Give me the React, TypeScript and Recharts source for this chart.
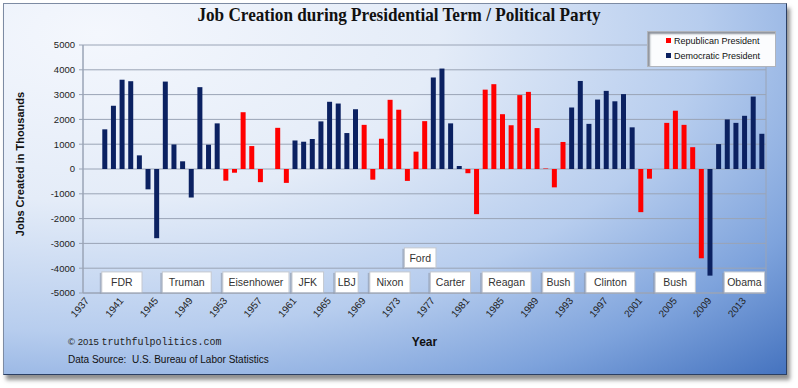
import { BarChart, Bar, XAxis, YAxis, CartesianGrid, Legend, ReferenceArea } from 'recharts'

// categories: one per calendar year (1937 and 1938 have no data)
const years = Array.from({ length: 79 }, (_, i) => 1937 + i)

// jobs created per year, thousands
const jobs: Array<number | null> = [
  null, null,
  1600, 2550, 3600, 3540, 550, -820, -2790, 3525, 990, 310, -1150, 3300, 980, 1840,
  -470, -150, 2290, 925, -530, 0, 1660, -560,
  1150, 1100, 1210, 1920, 2710, 2640, 1450, 2410,
  1780, -430, 1220, 2790, 2390, -480, 700, 1930,
  3690, 4050, 1840, 120,
  -170, -1820, 3200, 3420, 2210, 1760, 2980, 3110, 1650, 20, -740, 1090,
  2480, 3550, 1820, 2800, 3150, 2730, 3020, 1680,
  -1740, -390, 0, 1860, 2350, 1780, 880, -3600,
  -4300, 1005, 2000, 1860, 2145, 2920, 1420,
]

// party in the White House, by year range
const terms = [
  { party: 'D', from: 1939, to: 1952 },
  { party: 'R', from: 1953, to: 1960 },
  { party: 'D', from: 1961, to: 1968 },
  { party: 'R', from: 1969, to: 1976 },
  { party: 'D', from: 1977, to: 1980 },
  { party: 'R', from: 1981, to: 1992 },
  { party: 'D', from: 1993, to: 2000 },
  { party: 'R', from: 2001, to: 2008 },
  { party: 'D', from: 2009, to: 2015 },
]

// president name boxes along the bottom (year span, value span)
const presidents = [
  { name: 'FDR', from: 1939, to: 1943, low: -5000, high: -4150 },
  { name: 'Truman', from: 1946, to: 1951, low: -5000, high: -4150 },
  { name: 'Eisenhower', from: 1953, to: 1960, low: -5000, high: -4150 },
  { name: 'JFK', from: 1961, to: 1964, low: -5000, high: -4150 },
  { name: 'LBJ', from: 1966, to: 1968, low: -5000, high: -4150 },
  { name: 'Nixon', from: 1970, to: 1974, low: -5000, high: -4150 },
  { name: 'Ford', from: 1974, to: 1977, low: -3980, high: -3180 },
  { name: 'Carter', from: 1977, to: 1981, low: -5000, high: -4150 },
  { name: 'Reagan', from: 1983, to: 1988, low: -5000, high: -4150 },
  { name: 'Bush', from: 1990, to: 1993, low: -5000, high: -4150 },
  { name: 'Clinton', from: 1995, to: 2000, low: -5000, high: -4150 },
  { name: 'Bush', from: 2003, to: 2007, low: -5000, high: -4150 },
  { name: 'Obama', from: 2011, to: 2015, low: -5000, high: -4150 },
]

const yTicks = [-5000, -4000, -3000, -2000, -1000, 0, 1000, 2000, 3000, 4000, 5000]
const labelYears = years.filter((y) => (y - 1937) % 4 === 0)
const legendOrder = ['rep', 'dem']

const RED = '#ff0000'
const NAVY = '#0b2161'
const sans = '"Liberation Sans", Arial, sans-serif'

const partyOf = (year: number) => terms.find((t) => year >= t.from && year <= t.to)?.party

const data = years.map((year, i) => {
  const p = partyOf(year)
  return {
    year,
    rep: p === 'R' ? jobs[i] : null,
    dem: p === 'D' ? jobs[i] : null,
  }
})

const YearTick = ({ x, y, payload }: any) => (
  <text x={x} y={y} dy={3} textAnchor="end" fontSize={10} fill="#222" fontFamily={sans} transform={`rotate(-50 ${x} ${y})`}>
    {payload.value}
  </text>
)

const nameBox = (name: string) => (props: any) => {
  const x = props.x + 1.5
  const w = props.width - 3
  const { y, height } = props
  return (
    <g>
      <rect x={x - 2} y={y + 1} width={w} height={height} fill="#8c96a8" opacity={0.6} />
      <rect x={x} y={y} width={w} height={height} fill="#ffffff" stroke="#c4c8d0" strokeWidth={1} />
      <text x={x + w / 2} y={y + height / 2 + 4} textAnchor="middle" fontSize={10.5} fill="#333" fontFamily={sans}>
        {name}
      </text>
    </g>
  )
}

const LegendBox = ({ payload }: any) => {
  const items = [...(payload || [])].sort((a: any, b: any) => legendOrder.indexOf(a.dataKey) - legendOrder.indexOf(b.dataKey))
  return (
    <div style={{ background: '#fbfcfe', border: '1px solid #b0b4bc', boxShadow: 'inset 2px 2px 2px #8e939c', padding: '2px 0 2px 18px', fontFamily: sans, fontSize: 9, color: '#111', lineHeight: '15px' }}>
      {items.map((entry: any) => (
        <div key={entry.value}>
          <span style={{ display: 'inline-block', width: 5, height: 5, background: entry.color, marginRight: 3, verticalAlign: 'middle', position: 'relative', top: -1 }} />
          {entry.value}
        </div>
      ))}
    </div>
  )
}

export default function App() {
  return (
    <div style={{ position: 'absolute', left: 0, top: 0, width: 798, height: 388, background: '#ffffff', overflow: 'hidden' }}>
      <div
        style={{
          position: 'absolute', left: 3, top: 3, width: 782, height: 370,
          border: '1px solid #7d8ba3', borderRightColor: '#2b3f63', borderBottomColor: '#2b3f63',
          background: 'radial-gradient(ellipse farthest-corner at 12% 8%, #f4f7fd 0%, #e4ecf8 35%, #b7cdee 62%, #7ea3dc 82%, #4573bf 100%)',
          boxShadow: '3px 5px 4px rgba(70,70,70,0.6)',
        }}
      />
      <div style={{ position: 'absolute', left: 0, top: 4, width: 798, textAlign: 'center', fontFamily: '"Liberation Serif", "Times New Roman", serif', fontWeight: 700, fontSize: 19.5, color: '#111', transform: 'scaleX(0.88)' }}>
        Job Creation during Presidential Term / Political Party
      </div>
      <BarChart width={798} height={388} data={data} margin={{ top: 45, right: 32, left: 23, bottom: 40 }} barCategoryGap={2} style={{ position: 'absolute', left: 0, top: 0 }}>
        <CartesianGrid xAxisId="grid" stroke="#9aa4b6" strokeWidth={1} />
        <XAxis xAxisId="grid" type="number" domain={[1937, 2016]} ticks={labelYears} hide />
        <XAxis
          dataKey="year"
          interval={3}
          height={55}
          tick={<YearTick />}
          tickLine={false}
          tickSize={0}
          tickMargin={6}
          axisLine={{ stroke: '#9aa4b6' }}
          label={{ value: 'Year', position: 'insideBottom', offset: 2, style: { fontFamily: sans, fontWeight: 700, fontSize: 12, fill: '#111' } }}
        />
        <YAxis
          domain={[-5000, 5000]}
          ticks={yTicks}
          width={60}
          tickSize={4}
          tickMargin={4}
          axisLine={{ stroke: '#9aa4b6' }}
          tickLine={{ stroke: '#9aa4b6' }}
          tick={{ fontSize: 9.5, fill: '#222', fontFamily: sans }}
          label={{ value: 'Jobs Created in Thousands', angle: -90, position: 'center', dx: -33, dy: -5, style: { fontFamily: sans, fontWeight: 700, fontSize: 11, fill: '#111' } }}
        />
        <Legend layout="vertical" align="center" verticalAlign="middle" wrapperStyle={{ left: 647, top: 31, width: 129 }} content={<LegendBox />} />
        {presidents.map((p, i) => (
          <ReferenceArea key={i} x1={p.from} x2={p.to} y1={p.low} y2={p.high} shape={nameBox(p.name)} />
        ))}
        <Bar dataKey="rep" name="Republican President" stackId="a" fill={RED} isAnimationActive={false} />
        <Bar dataKey="dem" name="Democratic President" stackId="a" fill={NAVY} isAnimationActive={false} />
      </BarChart>
      <div style={{ position: 'absolute', left: 68, top: 336, fontFamily: sans, fontSize: 9.5, color: '#222' }}>
        © 2015 <span style={{ fontFamily: '"Liberation Mono", "Courier New", monospace', fontSize: 10 }}>truthfulpolitics.com</span>
      </div>
      <div style={{ position: 'absolute', left: 68, top: 354, fontFamily: sans, fontSize: 10, color: '#111' }}>
        Data Source:&nbsp; U.S. Bureau of Labor Statistics
      </div>
    </div>
  )
}
